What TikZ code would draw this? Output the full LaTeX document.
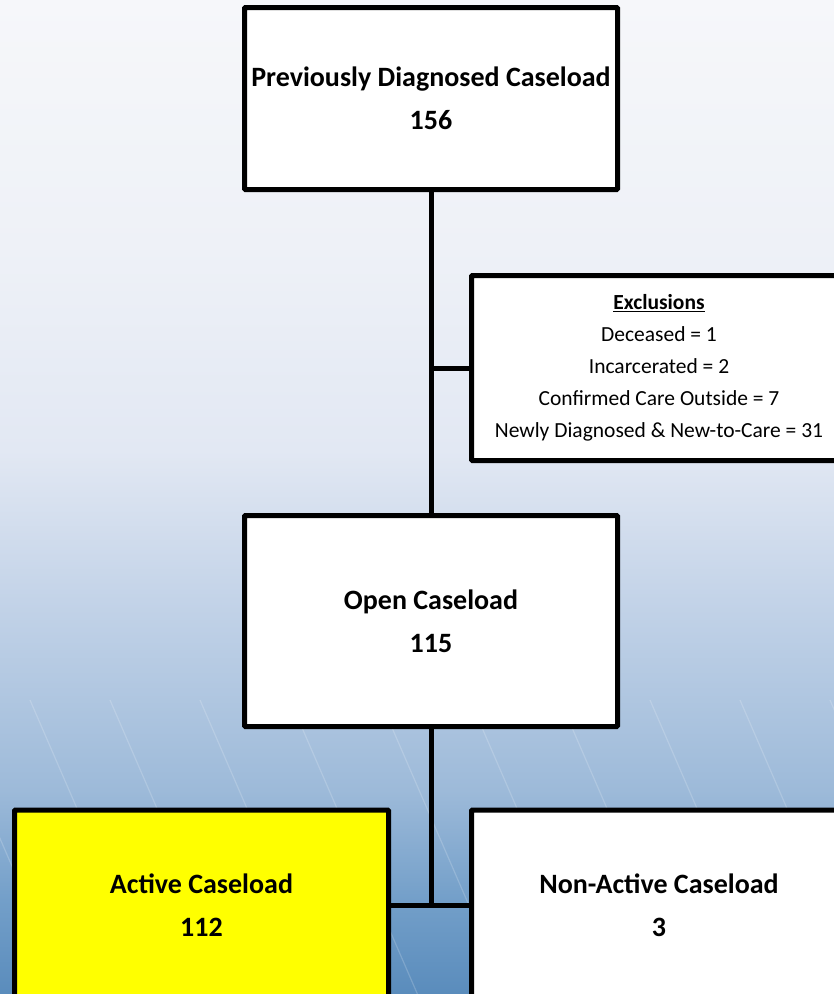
\documentclass[tikz,border=0pt]{standalone}
\usepackage{fontspec}
\setmainfont{Carlito}
\usetikzlibrary{positioning}

\definecolor{sky0}{HTML}{5A8CBC}
\definecolor{sky1}{HTML}{739FC9}
\definecolor{sky2}{HTML}{9DBAD9}
\definecolor{sky3}{HTML}{C3D3E8}
\definecolor{sky4}{HTML}{E2E8F3}
\definecolor{sky5}{HTML}{EEF1F7}
\definecolor{sky6}{HTML}{F6F7FA}
\definecolor{activefill}{HTML}{FFFF00}

% the path is mapped onto the middle 50bp of the shading
\pgfdeclareverticalshading{skyshade}{100bp}{color(0bp)=(sky0); color(25bp)=(sky0); color(29.75bp)=(sky1); color(35.25bp)=(sky2); color(44.8bp)=(sky3); color(52.35bp)=(sky4); color(62.5bp)=(sky5); color(75bp)=(sky6); color(100bp)=(sky6)}

\begin{document}
\begin{tikzpicture}[x=1pt, y=-1pt,
  case box/.style={draw=black, line width=5pt, fill=white, rounded corners=1pt,
    align=center, inner sep=0pt, font=\bfseries\fontsize{28}{43}\selectfont},
  list box/.style={case box, font=\fontsize{21.5}{32}\selectfont},
  link/.style={draw=black, line width=5pt}]

\useasboundingbox (0,0) rectangle (834,994);
\clip (0,0) rectangle (834,994);
\shade [shading=skyshade] (0,0) rectangle (834,994);

\foreach \x in {-60,30,110,200,290,380,470,560,650,740,830}
  \draw [white, opacity=0.18, line width=1.2pt] (\x,700) -- ++(130,300);

\node [case box, minimum width=373pt, minimum height=182pt] (prev) at (431,98.5)
  {Previously Diagnosed Caseload\\156};

\node [list box, minimum width=375pt, minimum height=185pt] (excl) at (659,368)
  {\underline{\textbf{Exclusions}}\\Deceased = 1\\Incarcerated = 2\\
   Confirmed Care Outside = 7\\Newly Diagnosed \& New-to-Care = 31};

\node [case box, minimum width=373pt, minimum height=211pt] (open) at (431,621)
  {Open Caseload\\115};

\node [case box, fill=activefill, minimum width=374pt, minimum height=190pt] (active) at (201.5,905)
  {Active Caseload\\112};

\node [case box, minimum width=375pt, minimum height=190pt] (nonactive) at (659,905)
  {Non-Active Caseload\\3};

\draw [link] (prev) -- (open);
\draw [link] (prev.south |- excl.west) -- (excl.west);
\draw [link] (active.east) -- (nonactive.west);
\draw [link] (open) -- (open.south |- active.east);

\end{tikzpicture}
\end{document}
